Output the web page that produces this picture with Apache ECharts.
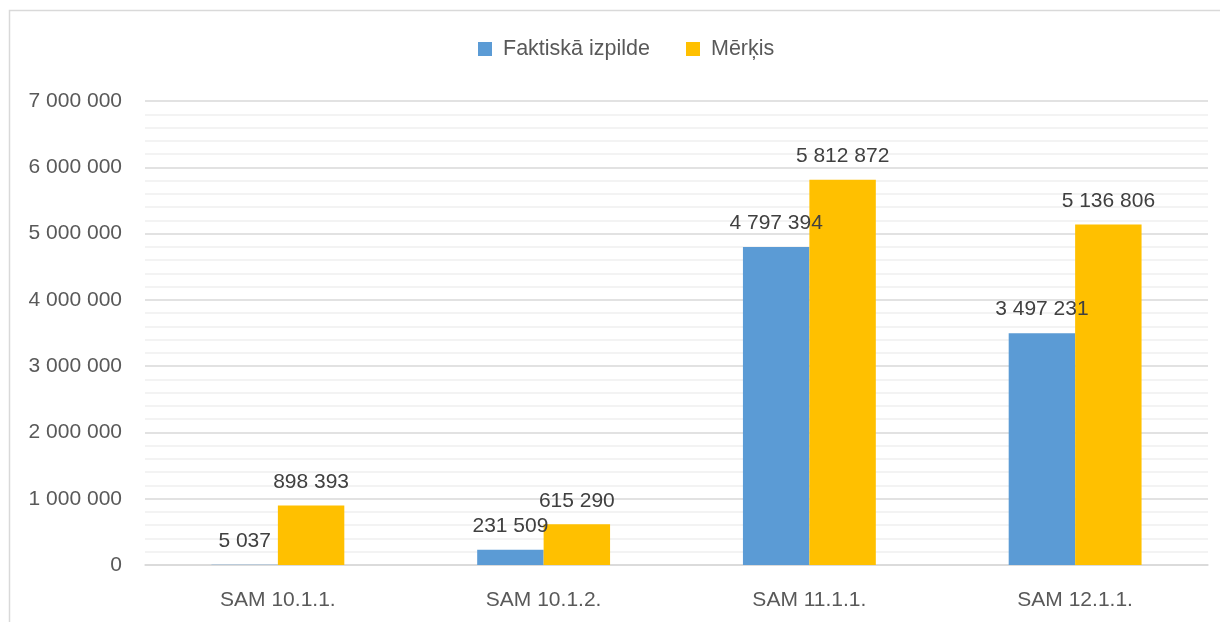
<!DOCTYPE html>
<html>
<head>
<meta charset="utf-8">
<script src="https://cdn.jsdelivr.net/npm/echarts@6/dist/echarts.min.js"></script>
<style>
html,body{margin:0;padding:0;background:#fff;}
#c{width:1220px;height:622px;}
</style>
</head>
<body>
<div id="c"></div>
<script>
const categories = ['SAM 10.1.1.', 'SAM 10.1.2.', 'SAM 11.1.1.', 'SAM 12.1.1.'];
const seriesNames = ['Faktiskā izpilde', 'Mērķis'];
const actual = [5037, 231509, 4797394, 3497231];
const target = [898393, 615290, 5812872, 5136806];
const yMin = 0, yMax = 7000000, yInterval = 1000000;

function fmt(v) {
  return String(Math.round(v)).replace(/\B(?=(\d{3})+(?!\d))/g, ' ');
}

const chart = echarts.init(document.getElementById('c'), null, {renderer: 'canvas'});
const font = '"Liberation Sans", Arial, sans-serif';
const labelStyle = {
  show: true, position: 'top', distance: 13,
  color: '#404040', fontSize: 21, fontFamily: font,
  formatter: p => fmt(p.value)
};
chart.setOption({
  animation: false,
  backgroundColor: '#fff',
  graphic: [{
    type: 'rect', shape: {x: 9.5, y: 10.5, width: 1300, height: 700},
    style: {fill: 'none', stroke: '#d9d9d9', lineWidth: 1.5}, silent: true, z: -10
  }],
  legend: {
    top: 33, left: 473, itemWidth: 14, itemHeight: 14, itemGap: 36,
    icon: 'rect',
    textStyle: {color: '#595959', fontSize: 21.5, fontFamily: font, padding: [0, 0, 0, 6]},
    data: seriesNames
  },
  grid: {left: 145, right: 12, top: 101, bottom: 57, containLabel: false},
  xAxis: {
    type: 'category', data: categories,
    axisLine: {show: true, lineStyle: {color: '#d9d9d9', width: 1.5}},
    axisTick: {show: false},
    axisLabel: {color: '#595959', fontSize: 21, fontFamily: font, margin: 25}
  },
  yAxis: {
    type: 'value', min: yMin, max: yMax, interval: yInterval,
    axisLine: {show: false}, axisTick: {show: false},
    axisLabel: {color: '#595959', fontSize: 21, fontFamily: font, margin: 23, formatter: v => fmt(v)},
    splitLine: {lineStyle: {color: '#d9d9d9', width: 1.5}},
    minorTick: {show: false, splitNumber: 5},
    minorSplitLine: {show: true, lineStyle: {color: '#f0f0f0', width: 1.5}}
  },
  series: [
    {name: seriesNames[0], type: 'bar', data: actual, barGap: '0%', barCategoryGap: '50%',
     itemStyle: {color: '#5B9BD5'}, label: labelStyle},
    {name: seriesNames[1], type: 'bar', data: target, barGap: '0%', barCategoryGap: '50%',
     itemStyle: {color: '#FFC000'}, label: labelStyle}
  ]
});
</script>
</body>
</html>
